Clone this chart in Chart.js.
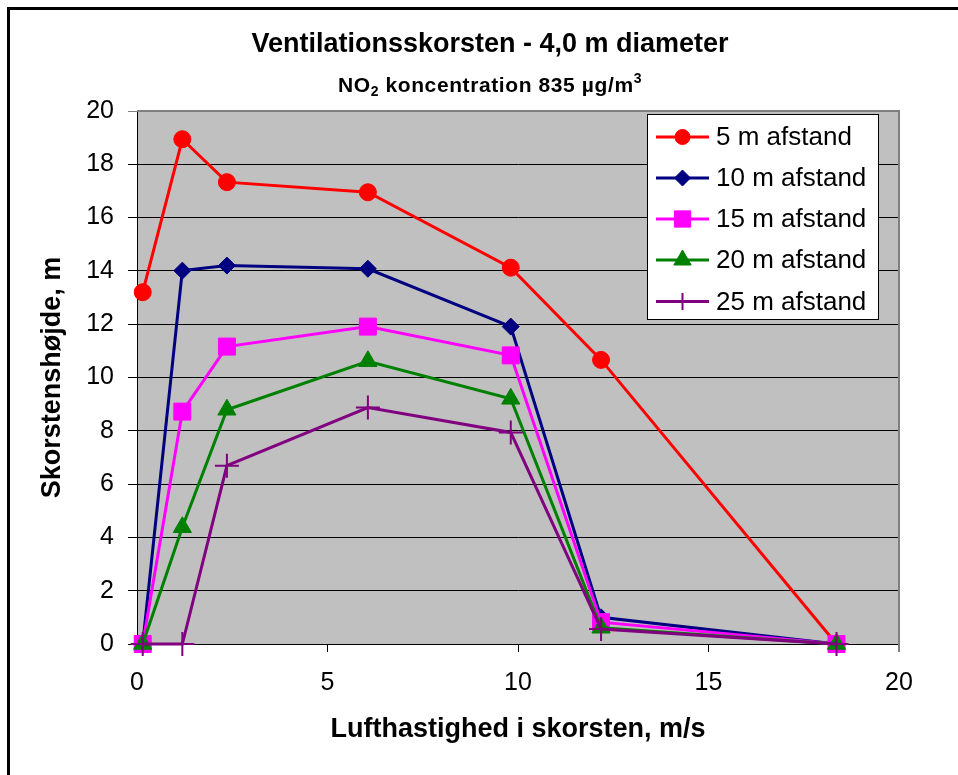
<!DOCTYPE html>
<html>
<head>
<meta charset="utf-8">
<script src="https://cdn.jsdelivr.net/npm/chart.js@4/dist/chart.umd.min.js"></script>
<style>
  html, body { margin: 0; padding: 0; background: #fff; }
  canvas { display: block; }
</style>
</head>
<body>
<canvas id="chart" width="958" height="775"></canvas>
<script>
// Air speed in the stack (m/s), shared by every series
const airSpeed = [0.15, 1.19, 2.36, 6.06, 9.81, 12.18, 18.36];

// Required stack height (m) for each distance
const height5m  = [13.2, 18.94, 17.33, 16.95, 14.12, 10.66, 0];
const height10m = [0, 14.01, 14.2, 14.08, 11.91, 1.0, 0];
const height15m = [0, 8.72, 11.16, 11.91, 10.83, 0.82, 0];
const height20m = [0, 4.38, 8.79, 10.61, 9.2, 0.61, 0];
const height25m = [0, 0, 6.69, 8.87, 7.94, 0.56, 0];

const seriesLabels = ['5 m afstand', '10 m afstand', '15 m afstand', '20 m afstand', '25 m afstand'];
const xTicks = [0, 5, 10, 15, 20];
const yTicks = [0, 2, 4, 6, 8, 10, 12, 14, 16, 18, 20];

const chartTitle = 'Ventilationsskorsten - 4,0 m diameter';
const xTitle = 'Lufthastighed i skorsten, m/s';
const yTitle = 'Skorstenshøjde, m';

const FONT = '"Liberation Sans", Arial, Helvetica, sans-serif';

const seriesStyle = [
  { values: height5m,  color: '#FF0000', style: 'circle',   radius: 8.5, pbw: 1, legendRadius: 7.5 },
  { values: height10m, color: '#000080', style: 'rectRot',  radius: 8.5, pbw: 1, legendRadius: 8 },
  { values: height15m, color: '#FF00FF', style: 'rect',     radius: 12,  pbw: 1, legendRadius: 11.5 },
  { values: height20m, color: '#008000', style: 'triangle', radius: 10.5, pbw: 1, legendRadius: 10 },
  { values: height25m, color: '#800080', style: 'cross',    radius: 12,  pbw: 2, legendRadius: 8.5 }
];

const datasets = seriesStyle.map((s, i) => ({
  label: seriesLabels[i],
  data: airSpeed.map((x, j) => ({ x: x, y: s.values[j] })),
  showLine: true,
  borderColor: s.color,
  backgroundColor: s.color,
  borderWidth: 3,
  tension: 0,
  pointStyle: s.style,
  pointRadius: s.radius,
  pointHoverRadius: s.radius,
  pointBorderWidth: s.pbw,
  pointBackgroundColor: s.color,
  pointBorderColor: s.color,
  clip: false,
  order: seriesStyle.length - i
}));

function drawMarker(ctx, style, radius, borderWidth, x, y) {
  if (Chart.helpers && Chart.helpers.drawPoint) {
    Chart.helpers.drawPoint(ctx, { pointStyle: style, radius: radius, rotation: 0, borderWidth: borderWidth }, x, y);
  }
}

// Sub-/superscript-aware subtitle: NO2 koncentration 835 µg/m3
function drawSubtitle(ctx, cx, baseline) {
  const parts = [
    { t: 'NO', size: 21, dy: 0 },
    { t: '2', size: 14, dy: 4 },
    { t: ' koncentration 835 µg/m', size: 21, dy: 0 },
    { t: '3', size: 14, dy: -9 }
  ];
  ctx.letterSpacing = '0.6px';
  let total = 0;
  parts.forEach(p => {
    ctx.font = 'bold ' + p.size + 'px ' + FONT;
    p.w = ctx.measureText(p.t).width;
    total += p.w;
  });
  let x = cx - total / 2;
  ctx.textAlign = 'left';
  ctx.textBaseline = 'alphabetic';
  parts.forEach(p => {
    ctx.font = 'bold ' + p.size + 'px ' + FONT;
    ctx.fillText(p.t, x, baseline + p.dy);
    x += p.w;
  });
  ctx.letterSpacing = '0px';
}

const framePlugin = {
  id: 'frame',
  beforeDraw(chart) {
    const { ctx, chartArea: a } = chart;
    ctx.save();
    ctx.fillStyle = '#fff';
    ctx.fillRect(0, 0, chart.width, chart.height);
    // plot background
    ctx.fillStyle = '#C0C0C0';
    ctx.fillRect(a.left, a.top, a.right - a.left, a.bottom - a.top);
    // outer chart frame
    ctx.strokeStyle = '#000';
    ctx.lineWidth = 3;
    ctx.strokeRect(8.5, 8.5, chart.width + 20, chart.height + 20);
    ctx.restore();
  },
  beforeDatasetsDraw(chart) {
    const { ctx, chartArea: a } = chart;
    ctx.save();
    ctx.strokeStyle = '#808080';
    ctx.lineWidth = 2;
    ctx.beginPath();
    ctx.moveTo(a.left, a.top);
    ctx.lineTo(a.right, a.top);
    ctx.lineTo(a.right, a.bottom + 8);
    ctx.stroke();
    ctx.restore();
  },
  afterDraw(chart) {
    const ctx = chart.ctx;
    ctx.save();
    ctx.fillStyle = '#000';
    // titles
    ctx.font = 'bold 27px ' + FONT;
    ctx.textAlign = 'center';
    ctx.textBaseline = 'alphabetic';
    ctx.fillText(chartTitle, 490, 52);
    drawSubtitle(ctx, 490, 92);

    // legend box
    const bx = 647, by = 114, bw = 231, bh = 205;
    ctx.fillStyle = '#fff';
    ctx.fillRect(bx, by, bw, bh);
    ctx.strokeStyle = '#000';
    ctx.lineWidth = 1;
    ctx.strokeRect(bx + 0.5, by + 0.5, bw, bh);
    const rowY = [137, 178, 219, 260, 301.5];
    seriesStyle.forEach((s, i) => {
      const y = rowY[i];
      ctx.strokeStyle = s.color;
      ctx.fillStyle = s.color;
      ctx.lineWidth = 3;
      ctx.beginPath();
      ctx.moveTo(656, y);
      ctx.lineTo(709, y);
      ctx.stroke();
      ctx.lineWidth = s.pbw;
      drawMarker(ctx, s.style, s.legendRadius, s.pbw, 682.5, y);
      ctx.fillStyle = '#000';
      ctx.font = '26px ' + FONT;
      ctx.textAlign = 'left';
      ctx.textBaseline = 'middle';
      ctx.fillText(seriesLabels[i], 716, y + 1);
    });
    ctx.restore();
  }
};

new Chart(document.getElementById('chart'), {
  type: 'scatter',
  data: { datasets: datasets },
  plugins: [framePlugin],
  options: {
    responsive: false,
    animation: false,
    events: [],
    layout: { padding: { left: 10, right: 59, top: 111, bottom: 10 } },
    plugins: {
      legend: { display: false },
      tooltip: { enabled: false },
      title: { display: false }
    },
    scales: {
      x: {
        type: 'linear',
        position: 'bottom',
        min: 0,
        max: 20,
        afterBuildTicks: scale => { scale.ticks = xTicks.map(v => ({ value: v })); },
        ticks: { color: '#000', font: { family: FONT, size: 25 }, padding: 16, maxRotation: 0, autoSkip: false },
        grid: {
          drawOnChartArea: false,
          tickLength: 8,
          tickColor: ctx => (ctx.tick && ctx.tick.value === 20 ? '#808080' : '#000'),
          lineWidth: 1
        },
        border: { color: '#000', width: 1 },
        title: {
          display: true,
          text: xTitle,
          color: '#000',
          font: { family: FONT, size: 27, weight: 'bold' },
          padding: { top: 0, bottom: 19 }
        },
        afterFit: scale => { scale.height = 775 - 10 - 644; }
      },
      y: {
        type: 'linear',
        min: 0,
        max: 20,
        afterBuildTicks: scale => { scale.ticks = yTicks.map(v => ({ value: v })); },
        ticks: { color: '#000', font: { family: FONT, size: 25 }, padding: 14, autoSkip: false },
        grid: {
          color: ctx => (ctx.tick && ctx.tick.value === 20 ? '#808080' : '#000'),
          tickColor: ctx => (ctx.tick && ctx.tick.value === 20 ? '#808080' : '#000'),
          tickLength: 9,
          lineWidth: 1
        },
        border: { color: '#000', width: 1 },
        title: {
          display: true,
          text: yTitle,
          color: '#000',
          font: { family: FONT, size: 27, weight: 'bold' },
          padding: { top: 26, bottom: 0 }
        },
        afterFit: scale => { scale.width = 137 - 10; }
      }
    }
  }
});
</script>
</body>
</html>
